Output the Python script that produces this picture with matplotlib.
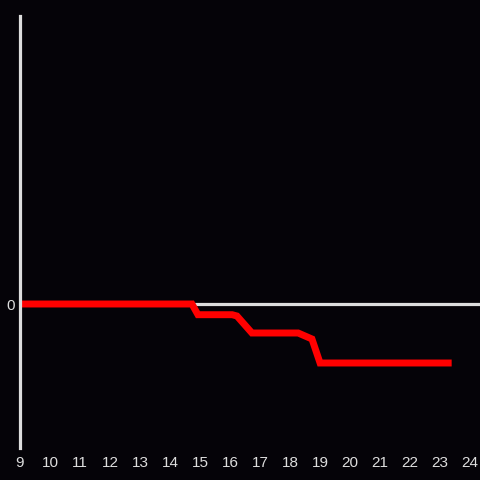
import numpy as np
import matplotlib.pyplot as plt

hours = [8.9, 14.73, 14.93, 16.07, 16.23, 16.73, 18.27, 18.73, 19.0, 23.27]
values = [0, 0, -1.07, -1.07, -1.2, -2.9, -2.9, -3.5, -5.9, -5.9]
xticks = list(range(9, 25))

bg = '#050308'
fg = '#dddddd'

fig = plt.figure(figsize=(4.8, 4.8), dpi=100, facecolor=bg)
ax = fig.add_axes([20/480, 32/480, 460/480, 432/480], facecolor=bg)

ax.axhline(0, color=fg, lw=2.3, zorder=1)
ax.plot(hours, values, color='#ff0000', lw=5, solid_joinstyle='miter', zorder=2)

ax.set_xlim(9, 24.33)
ax.set_ylim(-14.4, 28.8)
ax.set_xticks(xticks)
ax.set_yticks([0])
ax.tick_params(colors=fg, length=0, labelsize=11, pad=6)
ax.tick_params(axis='y', pad=4)
for lab in ax.get_xticklabels() + ax.get_yticklabels():
    lab.set_family('Liberation Sans')
    lab.set_color(fg)

for s in ['top', 'right', 'bottom']:
    ax.spines[s].set_visible(False)
ax.spines['left'].set_color(fg)
ax.spines['left'].set_linewidth(2.3)

fig.savefig('out.png', dpi=100, facecolor=bg)
